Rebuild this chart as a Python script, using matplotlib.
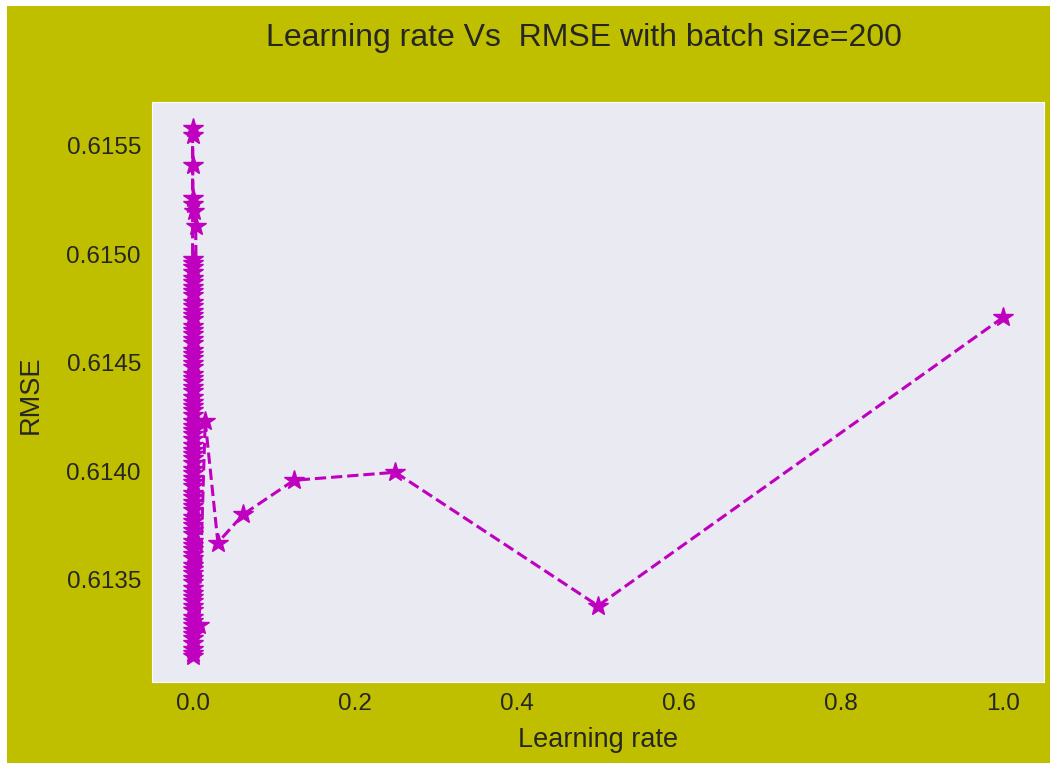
import matplotlib
matplotlib.use("Agg")
import matplotlib.pyplot as plt
import seaborn as sns
from matplotlib.patches import Rectangle

sns.set_style("dark")
plt.rcParams['font.family'] = ['Liberation Sans', 'DejaVu Sans']

# learning rates (halved at each step)
learning_rates = [
    1.0, 0.5, 0.25, 0.125, 0.0625, 0.03125, 0.015625, 0.0078125,
    3.9e-3, 2.0e-3, 9.8e-4, 4.9e-4, 2.4e-4, 1.2e-4, 6.1e-5, 3.1e-5, 1.5e-5, 7.6e-6,
    3.8e-6, 1.9e-6, 9.5e-7, 4.8e-7, 2.4e-7, 1.2e-7, 6.0e-8, 3.0e-8, 1.5e-8, 7.5e-9,
    3.7e-9, 1.9e-9, 9.3e-10, 4.7e-10, 2.3e-10, 1.2e-10, 5.8e-11, 2.9e-11, 1.5e-11, 7.3e-12,
    3.6e-12, 1.8e-12, 9.1e-13, 4.5e-13, 2.3e-13, 1.1e-13, 5.7e-14, 2.8e-14, 1.4e-14, 7.1e-15,
    3.6e-15, 1.8e-15, 8.9e-16, 4.4e-16, 2.2e-16, 1.1e-16, 5.6e-17, 2.8e-17, 1.4e-17, 6.9e-18,
    3.5e-18, 1.7e-18, 8.7e-19, 4.3e-19, 2.2e-19, 1.1e-19, 5.4e-20, 2.7e-20, 1.4e-20, 6.8e-21,
    3.4e-21, 1.7e-21, 8.5e-22, 4.2e-22, 2.1e-22, 1.1e-22, 5.3e-23, 2.6e-23, 1.3e-23, 6.6e-24,
    3.3e-24, 1.7e-24, 8.3e-25, 4.1e-25, 2.1e-25, 1.0e-25, 5.2e-26, 2.6e-26, 1.3e-26, 6.5e-27,
    3.2e-27, 1.6e-27, 8.1e-28, 4.0e-28, 2.0e-28, 1.0e-28, 5.0e-29, 2.5e-29, 1.3e-29, 6.3e-30,
    3.2e-30, 1.6e-30,
]

rmse = [
    0.61471, 0.61338, 0.613995, 0.613958, 0.613801, 0.613671, 0.614231, 0.613292,
    0.61513, 0.61520, 0.61523, 0.61526, 0.61541, 0.61555, 0.61558,
    0.61498, 0.61494, 0.61489, 0.61485, 0.61481, 0.61476, 0.61472, 0.61467, 0.61463, 0.61459,
    0.61454, 0.61450, 0.61445, 0.61441, 0.61437, 0.61432, 0.61428, 0.61423, 0.61419, 0.61415,
    0.61410, 0.61406, 0.61401, 0.61397, 0.61393, 0.61388, 0.61384, 0.61379, 0.61375, 0.61371,
    0.61366, 0.61362, 0.61357, 0.61353, 0.61349, 0.61344, 0.61340, 0.61336, 0.61331, 0.61327,
    0.61323, 0.61318,
    0.61316, 0.61321, 0.61325, 0.61329, 0.61333, 0.61338, 0.61342, 0.61346, 0.61351, 0.61355,
    0.61360, 0.61364, 0.61368, 0.61373, 0.61377, 0.61382, 0.61386, 0.61390, 0.61395, 0.61399,
    0.61404, 0.61408, 0.61412, 0.61417, 0.61421, 0.61426, 0.61430, 0.61434, 0.61439, 0.61443,
    0.61448, 0.61452, 0.61456, 0.61461, 0.61465, 0.61470, 0.61474, 0.61478, 0.61483, 0.61487,
    0.61492, 0.61496,
    0.61315,
]

yticks = [0.6135, 0.6140, 0.6145, 0.6150, 0.6155]
xticks = [0.0, 0.2, 0.4, 0.6, 0.8, 1.0]
title = "Learning rate Vs  RMSE with batch size=200"

fig = plt.figure(figsize=(10.5, 7.63), dpi=100)
fig.patch.set_facecolor('white')
fig.patches.append(Rectangle((7/1050, 0), 1 - 7/1050, 1 - 6/763, transform=fig.transFigure,
                             facecolor='y', edgecolor='none', zorder=-10))

ax = fig.add_axes([152/1050, 81/763, 892/1050, 580/763])
ax.plot(learning_rates, rmse, 'm*--', markersize=14.5, linewidth=2.2)

ax.set_yticks(yticks)
ax.set_xticks(xticks)
ax.tick_params(axis='both', labelsize=17.5, colors='.15', pad=8, length=0)
ax.set_xlabel("Learning rate", fontsize=19.5, color='.15')
ax.set_ylabel("RMSE", fontsize=19.5, color='.15')
ax.yaxis.set_label_coords(-0.121, 0.495)
ax.xaxis.set_label_coords(0.5, -0.078)
fig.text(584/1050, 1 - 38/763, title, ha='center', va='center', fontsize=23, color='.15')

fig.savefig("out.png", dpi=100, facecolor=fig.get_facecolor())
